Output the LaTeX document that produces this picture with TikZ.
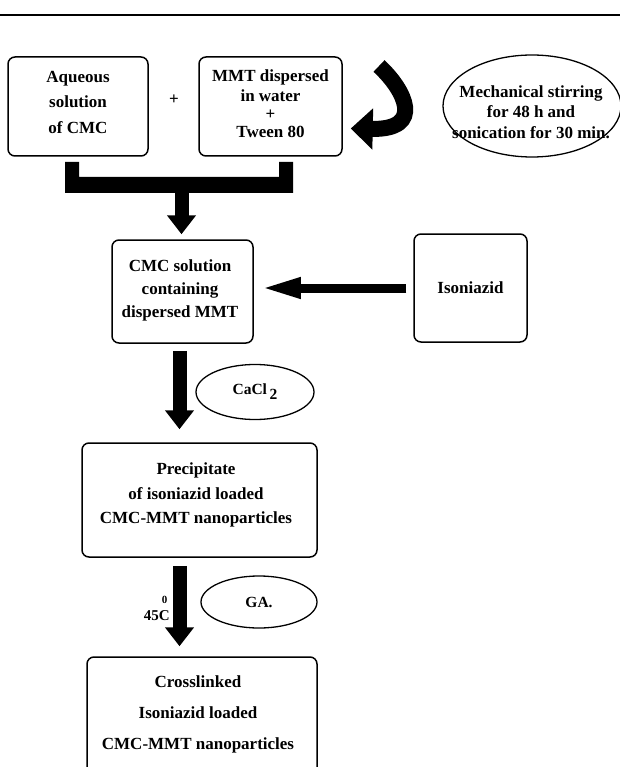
\documentclass[tikz,border=0pt]{standalone}
\usepackage{fontspec}
\setmainfont{Liberation Serif}
\usetikzlibrary{arrows.meta,shapes.geometric,calc}
\begin{document}
\begin{tikzpicture}[x=1pt,y=-1pt,
  procbox/.style={draw, line width=1.5pt, rounded corners=7pt, inner sep=0pt,
                  align=center, font=\bfseries\fontsize{17}{23}\selectfont},
  reagent/.style={draw, ellipse, line width=1.3pt, inner sep=0pt,
                  font=\bfseries\fontsize{15.5}{18}\selectfont},
  boxtext/.style={align=center, font=\bfseries\fontsize{17}{23}\selectfont, inner sep=0pt},
  blockdown/.style={line width=14pt, -{Triangle[width=28pt,length=19pt]}},
  blockleft/.style={line width=9pt, -{Triangle[width=19pt,length=40pt]}},
  swirl/.style={line width=16pt, -{Triangle[width=40pt,length=22pt]}},
]
\useasboundingbox (0,0) rectangle (620,767);
\clip (0,0) rectangle (620,767);

% rule across the top of the page
\coordinate (ruleL) at (0,15);
\coordinate (ruleR) at (620,15);
\draw[line width=2pt] (ruleL) -- (ruleR);

% starting materials
\node[procbox, minimum width=140pt, minimum height=99pt] (cmc) at (78,106.5) {};
\node[boxtext] (cmctext) at (78,102) {Aqueous\\[2.5pt]solution\\[2.5pt]of CMC};
\node[boxtext] (plus) at (174,100) {+};
\node[procbox, minimum width=143pt, minimum height=99pt] (mmt) at (270.5,106.5) {};
\node[boxtext] (mmttext) at (270.5,104) {MMT dispersed\\[-3pt]in water\\[-5pt]+\\[-5pt]Tween 80};

% treatment of the clay dispersion
\node[reagent, minimum width=178pt, minimum height=102pt] (stir) at (532,106) {};
\node[boxtext, font=\bfseries\fontsize{17}{20.5}\selectfont] (stirtext) at (531,112)
  {Mechanical stirring\\for 48 h and\\sonication for 30 min.};
\coordinate (swirlTail) at (379,66);
\coordinate (swirlTip) at ($(mmt.east)+(8,22)$);
\draw[swirl] (swirlTail) .. controls (405,90) and (425,130) .. (swirlTip);

% joining bracket under the two boxes
\fill (65,162) -- (79,162) -- (79,177) -- (279,177) -- (279,162) -- (293,162)
  -- (293,193) -- (65,193) -- cycle;
\coordinate (merge) at (181.5,193);

% mixed dispersion and drug
\node[procbox, minimum width=141pt, minimum height=103pt] (mix) at (182.5,291.5) {};
\node[boxtext] (mixtext) at (180,290) {CMC solution\\containing\\dispersed MMT};
\node[procbox, minimum width=113pt, minimum height=108pt] (iso) at (470.5,288) {Isoniazid};

\draw[blockdown, shorten >=5pt] (merge) -- (merge |- mix.north);
\draw[blockleft, shorten <=7pt, shorten >=7pt] (iso.west) -- (mix.east |- iso.west);

% ionic gelation
\node[reagent, minimum width=118pt, minimum height=55pt] (cacl) at (255,392)
  {CaCl\,\raisebox{-5pt}{2}};
\node[procbox, minimum width=235pt, minimum height=114pt] (prec) at (199.5,500) {};
\node[boxtext, font=\bfseries\fontsize{17}{24.5}\selectfont] (prectext) at (196,495)
  {Precipitate\\of isoniazid loaded\\CMC-MMT nanoparticles};
\coordinate (mixout) at ($(mix.south)+(-3,0)$);
\draw[blockdown, shorten <=7pt, shorten >=13pt] (mixout) -- (mixout |- prec.north);

% crosslinking step
\node[reagent, minimum width=116pt, minimum height=52pt] (ga) at (259,602) {GA.};
\node[anchor=base east, inner sep=0pt, font=\bfseries\fontsize{15}{15}\selectfont] (temp)
  at (170,620) {45C};
\node[anchor=base, inner sep=0pt, font=\bfseries\fontsize{11}{11}\selectfont] (tempdeg)
  at ($(temp.base east)+(-5.5,-16.5)$) {0};
\node[procbox, minimum width=230pt, minimum height=120pt] (cross) at (202,717) {};
\node[boxtext, font=\bfseries\fontsize{17}{31}\selectfont] (crosstext) at (198,714)
  {Crosslinked\\Isoniazid loaded\\CMC-MMT nanoparticles};
\coordinate (precout) at (mixout |- prec.south);
\draw[blockdown, shorten <=8pt, shorten >=10pt] (precout) -- (precout |- cross.north);
\end{tikzpicture}
\end{document}
